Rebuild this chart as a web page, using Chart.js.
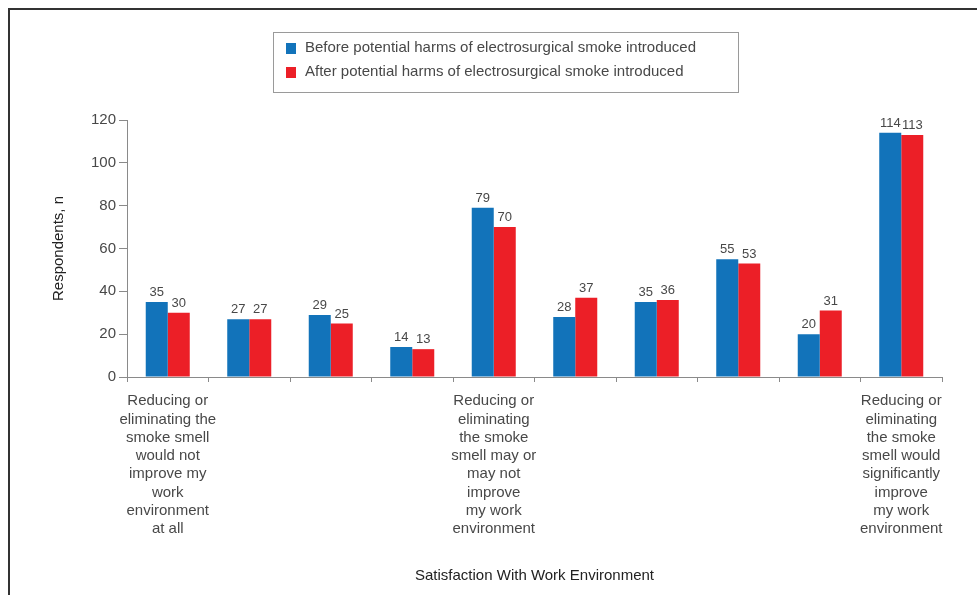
<!DOCTYPE html>
<html>
<head>
<meta charset="utf-8">
<script src="https://cdn.jsdelivr.net/npm/chart.js@4.4.0/dist/chart.umd.min.js"></script>
<style>
  html, body { margin: 0; padding: 0; background: #fff; }
</style>
</head>
<body>
<canvas id="smoke-chart" width="977" height="595"></canvas>
<script>
// categories on the satisfaction scale, only the anchors carry text
var categories = [
  ['Reducing or', 'eliminating the', 'smoke smell', 'would not', 'improve my', 'work', 'environment', 'at all'],
  '', '', '',
  ['Reducing or', 'eliminating', 'the smoke', 'smell may or', 'may not', 'improve', 'my work', 'environment'],
  '', '', '', '',
  ['Reducing or', 'eliminating', 'the smoke', 'smell would', 'significantly', 'improve', 'my work', 'environment']
];
var seriesNames = [
  'Before potential harms of electrosurgical smoke introduced',
  'After potential harms of electrosurgical smoke introduced'
];
var beforeValues = [35, 27, 29, 14, 79, 28, 35, 55, 20, 114];
var afterValues = [30, 27, 25, 13, 70, 37, 36, 53, 31, 113];
var yTicks = [0, 20, 40, 60, 80, 100, 120];

var FONT = '"Liberation Sans", Arial, sans-serif';
var TEXT = '#484848';
var BLUE = '#1273ba';
var RED = '#ec1f27';

// frame round the figure (only top and left edge fall inside the page)
const framePlugin = {
  id: 'frame',
  beforeDraw(chart) {
    const ctx = chart.ctx;
    ctx.save();
    ctx.strokeStyle = '#333';
    ctx.lineWidth = 2;
    ctx.beginPath();
    ctx.moveTo(9, 600);
    ctx.lineTo(9, 9);
    ctx.lineTo(990, 9);
    ctx.stroke();
    ctx.restore();
  }
};

// boxed legend, one series per row
const boxLegend = {
  id: 'boxLegend',
  afterDraw(chart) {
    const ctx = chart.ctx;
    ctx.save();
    ctx.strokeStyle = '#9a9a9a';
    ctx.lineWidth = 1;
    ctx.strokeRect(273.5, 32.5, 465, 60);
    ctx.font = '15px ' + FONT;
    ctx.textBaseline = 'middle';
    ctx.textAlign = 'left';
    chart.data.datasets.forEach((ds, i) => {
      const y = 48 + i * 24;
      ctx.fillStyle = ds.backgroundColor;
      ctx.fillRect(286, y - 5, 10, 11);
      ctx.fillStyle = TEXT;
      ctx.fillText(ds.label, 305, y);
    });
    ctx.restore();
  }
};

// value printed above each bar
const barValues = {
  id: 'barValues',
  afterDatasetsDraw(chart) {
    const ctx = chart.ctx;
    ctx.save();
    ctx.font = '13px ' + FONT;
    ctx.fillStyle = TEXT;
    ctx.textAlign = 'center';
    ctx.textBaseline = 'bottom';
    chart.data.datasets.forEach((ds, i) => {
      chart.getDatasetMeta(i).data.forEach((bar, j) => {
        ctx.fillText(ds.data[j], bar.x, bar.y - 3);
      });
    });
    ctx.restore();
  }
};

var ctx = document.getElementById('smoke-chart').getContext('2d');
new Chart(ctx, {
  type: 'bar',
  data: {
    labels: categories,
    datasets: [
      { label: seriesNames[0], data: beforeValues, backgroundColor: BLUE },
      { label: seriesNames[1], data: afterValues, backgroundColor: RED }
    ]
  },
  plugins: [framePlugin, boxLegend, barValues],
  options: {
    responsive: false,
    devicePixelRatio: 1,
    animation: false,
    layout: { padding: { top: 120, right: 35, bottom: 0, left: 0 } },
    datasets: { bar: { categoryPercentage: 0.54, barPercentage: 1 } },
    plugins: { legend: { display: false }, tooltip: { enabled: false } },
    scales: {
      x: {
        offset: true,
        afterFit(scale) { scale.height = 218; },
        grid: { offset: true, drawOnChartArea: false, drawTicks: true, tickLength: 5, color: '#8a8a8a' },
        border: { color: '#8a8a8a', width: 1 },
        ticks: {
          autoSkip: false, maxRotation: 0, minRotation: 0, padding: 10,
          color: TEXT, font: { family: FONT, size: 15, lineHeight: 1.22 }
        },
        title: {
          display: true, text: 'Satisfaction With Work Environment', color: '#222',
          font: { family: FONT, size: 15, lineHeight: 1.2 }, padding: { top: 0, bottom: 10 }
        }
      },
      y: {
        min: 0, max: 120,
        afterFit(scale) { scale.width = 127; },
        afterBuildTicks(scale) { scale.ticks = yTicks.map(v => ({ value: v })); },
        grid: { drawOnChartArea: false, drawTicks: true, tickLength: 8, color: '#8a8a8a' },
        border: { color: '#8a8a8a', width: 1 },
        ticks: { padding: 3, color: TEXT, font: { family: FONT, size: 15 } },
        title: {
          display: true, text: 'Respondents, n', color: '#222',
          font: { family: FONT, size: 15, lineHeight: 1.2 }, padding: { top: 50, bottom: 0 }
        }
      }
    }
  }
});
</script>
</body>
</html>
